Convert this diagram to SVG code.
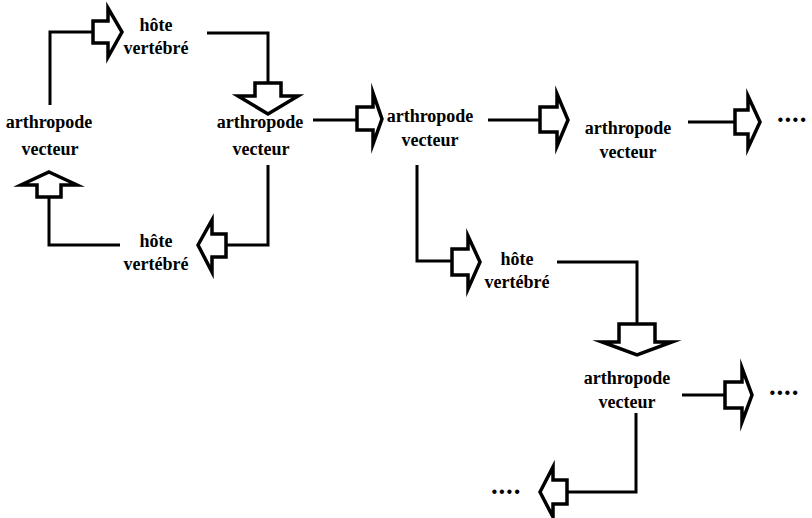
<svg xmlns="http://www.w3.org/2000/svg" width="812" height="518" viewBox="0 0 812 518">
<style>
  .lbl { font-family: "Liberation Serif", "Times New Roman", serif; font-weight: bold; font-size: 18px; fill: #000; text-anchor: middle; }
  .dots { font-family: "Liberation Serif", "Times New Roman", serif; font-weight: bold; font-size: 27px; letter-spacing: 0.8px; fill: #000; }
  .arr { fill: #fff; stroke: #000; stroke-width: 3.5; stroke-linejoin: miter; stroke-miterlimit: 10; }
  .con { fill: none; stroke: #000; stroke-width: 3; stroke-linejoin: miter; }
</style>
<rect width="812" height="518" fill="#fff"/>
<g id="connectors">
  <path class="con" d="M50,105 V32 H93"/>
  <path class="con" d="M207,33 H268 V83"/>
  <path class="con" d="M268,165 V245 H226"/>
  <path class="con" d="M120,245 H49 V197"/>
  <path class="con" d="M313,120 H357"/>
  <path class="con" d="M488,120 H540"/>
  <path class="con" d="M688,122 H735"/>
  <path class="con" d="M417,165 V261 H452"/>
  <path class="con" d="M557,262 H637 V324"/>
  <path class="con" d="M682,395 H725"/>
  <path class="con" d="M636,413 V492 H567"/>
  <polygon class="arr" points="93,21 108,21 108,8 122,32 108,57 108,43 93,43"/>
  <polygon class="arr" points="255,83 281,83 281,96 298,96 268,114 238,96 255,96"/>
  <polygon class="arr" points="49,172 77,185 61,185 61,197 37,197 37,185 21,185"/>
  <polygon class="arr" points="198,245 212,220 212,234 226,234 226,257 212,257 212,272"/>
  <polygon class="arr" points="357,107 373,107 373,93 382,119 373,144 373,130 357,130"/>
  <polygon class="arr" points="540,107 557,107 557,94 568,120 557,146 557,132 540,132"/>
  <polygon class="arr" points="735,110 748,110 748,96 760,122 748,148 748,134 735,134"/>
  <polygon class="arr" points="452,249 468,249 468,236 480,262 468,289 468,275 452,275"/>
  <polygon class="arr" points="619,324 655,324 655,342 672,342 637,355 602,342 619,342"/>
  <polygon class="arr" points="725,382 742,382 742,368 752,395 742,422 742,408 725,408"/>
  <polygon class="arr" points="540,492 553,467 553,480 567,480 567,504 553,504 553,517"/>
</g>
<g id="hote1"><text class="lbl" x="156" y="31">hôte</text><text class="lbl" x="156" y="54">vertébré</text></g>
<g id="arthropode1"><text class="lbl" x="49" y="128">arthropode</text><text class="lbl" x="50" y="155">vecteur</text></g>
<g id="arthropode2"><text class="lbl" x="260" y="128">arthropode</text><text class="lbl" x="261" y="155">vecteur</text></g>
<g id="hote2"><text class="lbl" x="156" y="247">hôte</text><text class="lbl" x="156" y="270">vertébré</text></g>
<g id="arthropode3"><text class="lbl" x="430" y="122">arthropode</text><text class="lbl" x="430" y="146">vecteur</text></g>
<g id="arthropode4"><text class="lbl" x="628" y="134">arthropode</text><text class="lbl" x="628" y="158">vecteur</text></g>
<g id="hote3"><text class="lbl" x="517" y="265">hôte</text><text class="lbl" x="517" y="288">vertébré</text></g>
<g id="arthropode5"><text class="lbl" x="627" y="384">arthropode</text><text class="lbl" x="627" y="408">vecteur</text></g>
<g id="dots1"><text class="dots" x="777" y="122">....</text></g>
<g id="dots2"><text class="dots" x="769" y="395">....</text></g>
<g id="dots3"><text class="dots" x="491" y="494">....</text></g>
</svg>
